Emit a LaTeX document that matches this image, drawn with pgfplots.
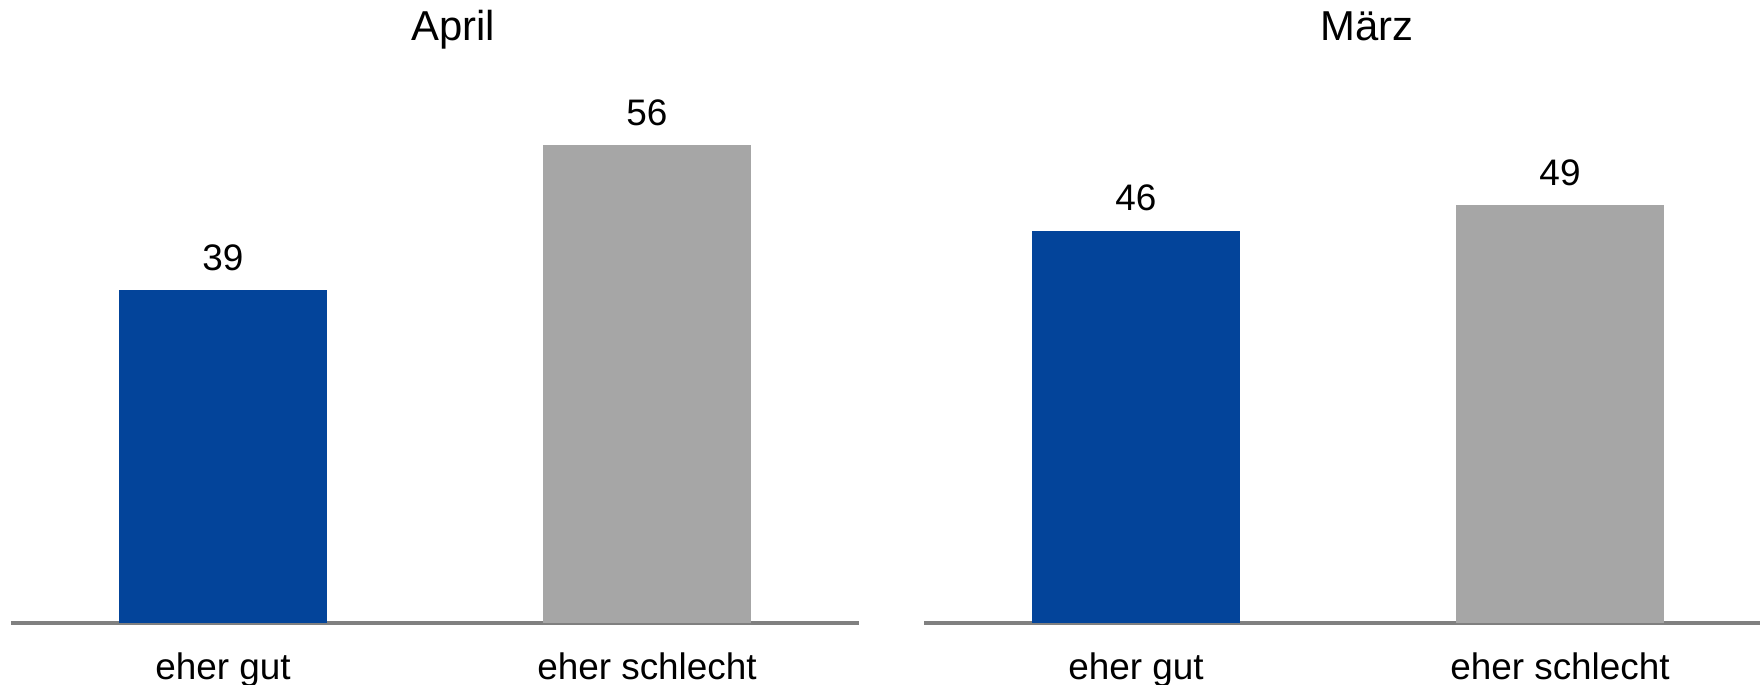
\documentclass[border=0pt]{standalone}
\usepackage{fontspec}
\setmainfont{Liberation Sans}
\usepackage{pgfplots}
\pgfplotsset{compat=1.18}
\definecolor{barblue}{HTML}{03449A}
\definecolor{bargray}{HTML}{A6A6A6}
\definecolor{axgray}{HTML}{808080}

\pgfplotsset{
  panel/.style={
    scale only axis,
    height=5.826cm,
    ymin=0, ymax=68.3,
    xmin=-0.5,
    axis y line=none,
    axis x line=bottom,
    x axis line style={-, draw=axgray, line width=0.9pt},
    xtick={0,1},
    xticklabels={eher gut, eher schlecht},
    major tick length=0pt,
    xticklabel style={anchor=base, yshift=-0.57cm, font=\fontsize{10.5}{12}\selectfont},
    ybar, bar width=0.49, bar shift=0pt,
    nodes near coords,
    /pgf/number format/assume math mode=true,
    every node near coord/.append style={anchor=base, yshift=0.2cm, font=\fontsize{10.5}{12}\selectfont, text=black},
    every axis title shift=0pt,
    title style={at={(0.5,1)}, anchor=base, font=\fontsize{11.9}{14}\selectfont},
    clip=false,
  }
}

\begin{document}
\begin{tikzpicture}
\useasboundingbox (0,0) rectangle (17.6cm,6.85cm);

\begin{axis}[panel, at={(0.11cm,0.62cm)}, anchor=south west,
    width=8.48cm, xmax=1.5, title=April, title style={xshift=0.18cm}]
  \addplot[fill=barblue, draw=none] coordinates {(0,39)};
  \addplot[fill=bargray, draw=none] coordinates {(1,56)};
\end{axis}

\begin{axis}[panel, at={(9.24cm,0.62cm)}, anchor=south west,
    width=8.36cm, xmax=1.4717, title=März, title style={xshift=0.25cm}]
  \addplot[fill=barblue, draw=none] coordinates {(0,46)};
  \addplot[fill=bargray, draw=none] coordinates {(1,49)};
\end{axis}
\end{tikzpicture}
\end{document}
